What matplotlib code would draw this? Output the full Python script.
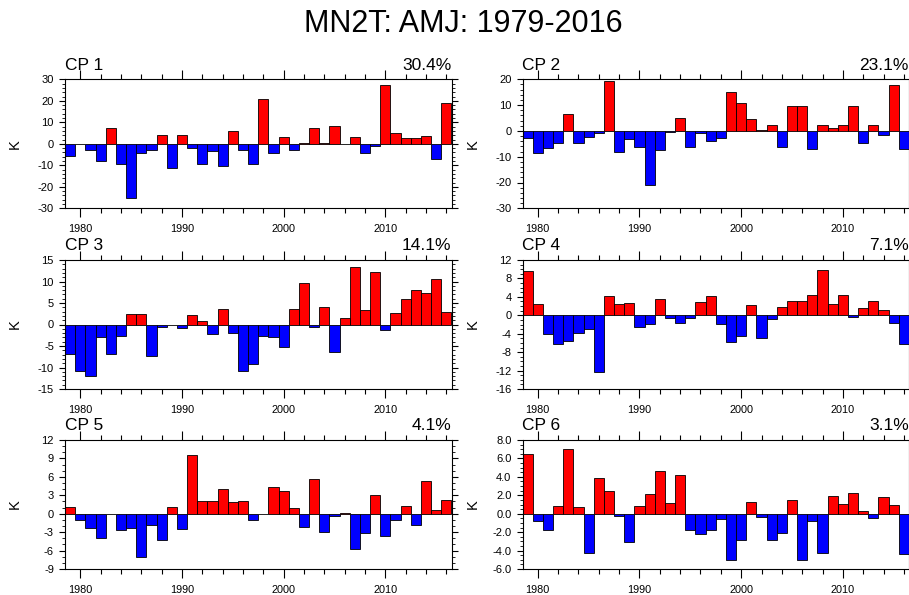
import numpy as np
import matplotlib
matplotlib.use("Agg")
import matplotlib.pyplot as plt
from matplotlib.ticker import MultipleLocator, FormatStrFormatter

plt.rcParams['font.family'] = ['Liberation Sans', 'DejaVu Sans']

# PC time series of the six leading modes (K), one value per year
years = np.arange(1979, 2017)

cp1 = [-5.6, 0.0, -2.7, -8.0, 7.2, -9.2, -25.3, -4.2, -3.0, 3.9,
       -11.2, 4.0, -2.0, -9.4, -3.4, -10.5, 6.1, -2.8, -9.4, 20.8,
       -4.2, 3.0, -3.0, 0.5, 7.2, 0.5, 8.1, -0.3, 3.0, -4.2,
       -1.1, 27.5, 4.8, 2.8, 2.7, 3.4, -6.9, 19.1]
cp2 = [-2.9, -8.7, -6.5, -4.8, 6.6, -4.5, -2.3, -1.0, 19.5, -8.2,
       -3.0, -6.1, -20.8, -7.5, -0.6, 5.1, -6.2, -0.8, -3.9, -2.7,
       14.9, 11.0, 4.5, 0.3, 2.3, -6.1, 9.7, 9.7, -7.0, 2.1,
       1.0, 2.3, 9.7, -4.8, 2.1, -1.6, 17.7, -7.1]
cp3 = [-6.8, -10.9, -12.0, -3.0, -6.8, -2.7, 2.5, 2.5, -7.3, -0.6,
       -0.2, -0.9, 2.3, 0.9, -2.2, 3.5, -2.0, -10.8, -9.3, -2.7,
       -3.0, -5.2, 3.7, 9.6, -0.5, 4.1, -6.4, 1.6, 13.4, 3.3,
       12.1, -1.2, 2.7, 5.9, 8.1, 7.3, 10.5, 2.8]
cp4 = [9.6, 2.5, -4.0, -6.2, -5.6, -3.8, -3.0, -12.3, 4.2, 2.5,
       2.7, -2.5, -1.8, 3.5, -0.6, -1.7, -0.6, 2.9, 4.2, -1.9,
       -5.8, -4.5, 2.2, -5.0, -0.7, 1.8, 3.2, 3.2, 4.5, 9.9,
       2.4, 4.3, -0.4, 1.5, 3.0, 1.1, -1.7, -6.3]
cp5 = [1.1, -1.1, -2.4, -4.0, 0.0, -2.7, -2.3, -7.1, -1.8, -4.2,
       1.1, -2.5, 9.5, 2.1, 2.0, 4.0, 1.9, 2.1, -1.1, -0.1,
       4.4, 3.7, 0.9, -2.2, 5.7, -2.9, -0.4, 0.1, -5.8, -3.2,
       3.1, -3.7, -1.1, 1.2, -1.8, 5.3, 0.6, 2.3]
cp6 = [6.5, -0.8, -1.8, 0.8, 7.0, 0.7, -4.3, 3.9, 2.5, -0.3,
       -3.1, 0.8, 2.1, 4.6, 1.2, 4.2, -1.8, -2.2, -1.8, -0.6,
       -5.0, -2.9, 1.3, -0.4, -2.9, -2.1, 1.5, -5.0, -0.8, -4.3,
       1.9, 1.1, 2.2, 0.25, -0.5, 1.8, 1.0, -4.4]

series = [cp1, cp2, cp3, cp4, cp5, cp6]
names = ['CP 1', 'CP 2', 'CP 3', 'CP 4', 'CP 5', 'CP 6']
variance = ['30.4%', '23.1%', '14.1%', '7.1%', '4.1%', '3.1%']

# axis settings per panel: (ymin, ymax, major step, minor step, label format)
yaxes = [(-30, 30, 10, 2, '%d'),
         (-30, 20, 10, 2, '%d'),
         (-15, 15, 5, 1, '%d'),
         (-16, 12, 4, 1, '%d'),
         (-9, 12, 3, 1, '%d'),
         (-6, 8, 2, 0.5, '%.1f')]

W, H = 909, 595
fig = plt.figure(figsize=(W / 100, H / 100), dpi=100)

fig.text(463 / W, 1 - 32 / H, 'MN2T: AMJ: 1979-2016', ha='center',
         va='baseline', fontsize=22)

col_left = [65, 522.5]
row_top = [79.3, 260, 440]
aw, ah = 386.5, 129

for i, vals in enumerate(series):
    r, c = divmod(i, 2)
    ax = fig.add_axes([col_left[c] / W, 1 - (row_top[r] + ah) / H, aw / W, ah / H])
    vals = np.array(vals)
    colors = np.where(vals >= 0, '#ff0000', '#0000ff')
    ax.bar(years, vals, width=1.0, color=colors, edgecolor='black', linewidth=0.6)

    ymin, ymax, major, minor, fmt = yaxes[i]
    ax.set_xlim(1978.5, 2016.5)
    ax.set_ylim(ymin, ymax)
    ax.xaxis.set_major_locator(MultipleLocator(10))
    ax.xaxis.set_minor_locator(MultipleLocator(2))
    ax.yaxis.set_major_locator(MultipleLocator(major))
    ax.yaxis.set_minor_locator(MultipleLocator(minor))
    ax.yaxis.set_major_formatter(FormatStrFormatter(fmt))

    ax.tick_params(axis='x', which='major', direction='out', length=6.5,
                   width=0.8, top=True, labelsize=7.8, pad=5)
    ax.tick_params(axis='x', which='minor', direction='out', length=3.5,
                   width=0.8, top=True)
    ax.tick_params(axis='y', which='major', direction='out', length=4,
                   width=0.8, right=True, labelsize=8, pad=4)
    ax.tick_params(axis='y', which='minor', direction='out', length=2.2,
                   width=0.6, right=True)
    for sp in ax.spines.values():
        sp.set_linewidth(0.8)

    ax.set_ylabel('K', fontsize=10.5)
    ax.yaxis.set_label_coords(-43 / aw, 0.5)

    ax.annotate(names[i], xy=(0, 1), xycoords='axes fraction', xytext=(0, 7),
                textcoords='offset points', ha='left', va='baseline', fontsize=12.5)
    ax.annotate(variance[i], xy=(1, 1), xycoords='axes fraction', xytext=(0, 7),
                textcoords='offset points', ha='right', va='baseline', fontsize=12.5)

fig.savefig('out.png', dpi=100)
